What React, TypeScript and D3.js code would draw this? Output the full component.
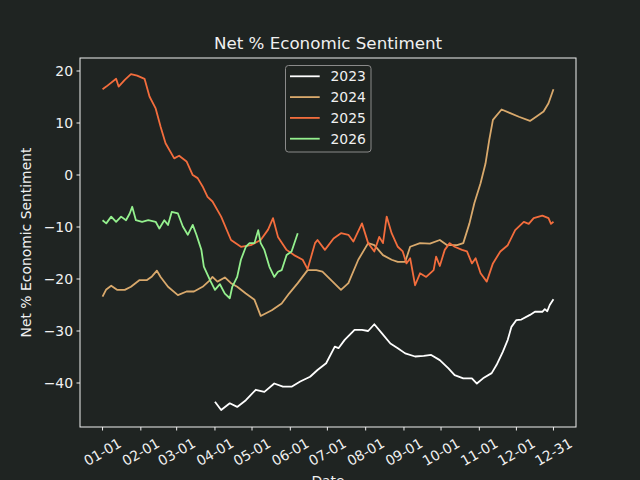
import * as d3 from 'd3';

// day of year (0 = 01-01, 365 = 12-31 on a leap-year axis) and net % values
const days2023 = [91, 96, 103, 109, 116, 124, 131, 139, 146, 153, 160, 168, 174, 181, 188, 191, 196, 204, 210, 215, 220, 226, 233, 239, 245, 253, 260, 266, 273, 280, 285, 292, 299, 303, 308, 315, 319, 324, 328, 331, 335, 339, 346, 350, 356, 358, 360, 362, 365];
const vals2023 = [-43.6, -45.2, -43.9, -44.6, -43.3, -41.3, -41.7, -40.1, -40.7, -40.7, -39.7, -38.8, -37.5, -36.2, -33.0, -33.3, -31.7, -29.8, -29.8, -30.0, -28.7, -30.4, -32.4, -33.3, -34.3, -34.9, -34.8, -34.6, -35.6, -37.2, -38.5, -39.1, -39.1, -40.1, -39.1, -38.1, -36.5, -34.0, -31.7, -29.2, -27.9, -27.8, -26.9, -26.3, -26.3, -25.8, -26.2, -25.0, -23.9];

const days2024 = [0, 3, 7, 12, 18, 23, 30, 36, 40, 44, 47, 53, 61, 68, 74, 81, 87, 89, 93, 99, 104, 109, 116, 123, 128, 137, 145, 151, 158, 166, 173, 178, 185, 193, 199, 207, 215, 220, 227, 234, 239, 245, 249, 257, 265, 273, 279, 287, 292, 297, 301, 306, 310, 313, 316, 323, 330, 337, 346, 351, 357, 361, 365];
const vals2024 = [-23.4, -22.0, -21.3, -22.1, -22.1, -21.5, -20.2, -20.2, -19.5, -18.4, -19.6, -21.5, -23.1, -22.4, -22.4, -21.5, -20.2, -19.6, -20.5, -19.7, -20.8, -21.5, -22.8, -24.0, -27.1, -26.0, -24.7, -22.8, -20.8, -18.3, -18.3, -18.6, -20.2, -22.1, -20.8, -16.3, -13.1, -13.5, -15.4, -16.3, -16.7, -16.7, -13.8, -13.1, -13.2, -12.5, -13.5, -13.5, -13.1, -9.3, -5.4, -1.6, 2.2, 6.7, 10.6, 12.6, 11.9, 11.2, 10.4, 11.2, 12.2, 13.8, 16.5];

const days2025 = [0, 3, 11, 13, 18, 23, 28, 34, 38, 43, 47, 51, 58, 62, 68, 73, 77, 81, 85, 89, 96, 104, 112, 120, 128, 134, 138, 142, 149, 155, 162, 166, 172, 174, 180, 187, 193, 199, 203, 210, 215, 220, 224, 227, 230, 234, 239, 243, 246, 249, 253, 257, 262, 268, 270, 273, 277, 281, 285, 291, 295, 299, 302, 306, 311, 316, 322, 328, 334, 341, 345, 349, 356, 361, 363, 365];
const vals2025 = [16.5, 17.0, 18.5, 17.0, 18.3, 19.4, 19.1, 18.5, 15.1, 12.8, 9.3, 6.1, 3.2, 3.7, 2.6, 0, -0.6, -2.2, -4.2, -5.1, -8.0, -12.5, -13.8, -13.5, -12.5, -10.5, -8.3, -11.9, -14.4, -15.4, -16.3, -18.1, -13.1, -12.5, -14.4, -12.2, -11.2, -11.5, -12.8, -9.3, -13.1, -14.7, -11.9, -13.1, -8.0, -11.2, -13.8, -14.7, -17.0, -16.0, -21.2, -18.9, -19.6, -18.3, -15.7, -17.5, -14.4, -13.1, -13.8, -14.4, -14.7, -17.0, -16.0, -18.9, -20.5, -17.0, -14.7, -13.5, -10.6, -9.0, -9.4, -8.3, -7.8, -8.3, -9.4, -9.0];

const days2026 = [0, 3, 7, 11, 15, 19, 22, 24, 27, 32, 37, 43, 46, 50, 53, 56, 61, 65, 69, 73, 76, 80, 82, 87, 91, 95, 99, 103, 105, 109, 112, 116, 119, 123, 126, 128, 131, 135, 139, 142, 145, 149, 153, 158];
const vals2026 = [-8.7, -9.3, -8.0, -9.0, -8.0, -8.7, -7.4, -6.1, -8.7, -9.0, -8.7, -9.0, -10.3, -8.7, -9.6, -7.1, -7.4, -9.9, -11.5, -9.6, -11.5, -14.4, -17.6, -20.2, -22.1, -21.0, -22.8, -23.7, -21.5, -19.6, -16.3, -13.8, -13.1, -13.1, -10.6, -13.1, -14.4, -17.6, -19.6, -18.6, -18.3, -15.4, -14.7, -11.2];

const seriesNames = ['2023', '2024', '2025', '2026'];
const seriesColors = ['#ffffff', '#d9a96c', '#f36d3d', '#94f08e'];
const seriesDays = [days2023, days2024, days2025, days2026];
const seriesVals = [vals2023, vals2024, vals2025, vals2026];

const tickMonths = ['01-01', '02-01', '03-01', '04-01', '05-01', '06-01', '07-01', '08-01', '09-01', '10-01', '11-01', '12-01', '12-31'];
const yTicks = [-40, -30, -20, -10, 0, 10, 20];

const BG = '#1f2422';
const FG = '#f0f0f0';
const FONT = 'DejaVu Sans, sans-serif';

const DAY = 86400000;
const start = Date.UTC(2024, 0, 1);
const toDate = (d: number) => new Date(start + d * DAY);

function App() {
  const width = 640;
  const height = 480;
  const left = 80, right = 576, top = 58, bottom = 427;

  const x = d3.scaleUtc()
    .domain([new Date(start - 18.25 * DAY), new Date(start + 383.25 * DAY)])
    .range([left, right]);
  const y = d3.scaleLinear().domain([-48.46, 22.5]).range([bottom, top]);

  const line = d3.line<[number, number]>()
    .x(d => x(toDate(d[0])))
    .y(d => y(d[1]));

  const tickDates = tickMonths.map(s => {
    const [m, dd] = s.split('-').map(Number);
    return new Date(Date.UTC(2024, m - 1, dd));
  });
  const fmt = d3.utcFormat('%m-%d');

  return (
    <svg width={width} height={height} style={{ position: 'absolute', left: 0, top: 0, background: BG }}
      fontFamily={FONT}>
      <rect width={width} height={height} fill={BG} />
      <text x={(left + right) / 2} y={49} textAnchor="middle" fill={FG} fontSize={16.7}>Net % Economic Sentiment</text>

      {seriesNames.map((name, i) => (
        <path key={name} fill="none" stroke={seriesColors[i]} strokeWidth={1.8} strokeLinejoin="round"
          d={line(seriesDays[i].map((d, j) => [d, seriesVals[i][j]] as [number, number])) ?? undefined} />
      ))}

      <rect x={left} y={top} width={right - left} height={bottom - top} fill="none" stroke={FG} strokeWidth={1} />

      {yTicks.map(t => (
        <g key={t}>
          <line x1={left - 3.5} x2={left} y1={y(t)} y2={y(t)} stroke={FG} />
          <text x={left - 7} y={y(t)} dy="0.35em" textAnchor="end" fill={FG} fontSize={13.9}>
            {t < 0 ? '\u2212' + Math.abs(t) : t}
          </text>
        </g>
      ))}

      {tickDates.map(t => (
        <g key={t.getTime()}>
          <line x1={x(t)} x2={x(t)} y1={bottom} y2={bottom + 3.5} stroke={FG} />
          <text transform={`translate(${x(t)},452) rotate(-30)`} dy="0.35em" textAnchor="middle" fill={FG} fontSize={13.9}>
            {fmt(t)}
          </text>
        </g>
      ))}

      <text x={(left + right) / 2} y={486} textAnchor="middle" fill={FG} fontSize={13.9}>Date</text>
      <text transform={`translate(31,${(top + bottom) / 2}) rotate(-90)`} textAnchor="middle" fill={FG} fontSize={13.9}>
        Net % Economic Sentiment
      </text>

      <g>
        <rect x={285.5} y={65.5} width={85.5} height={86.5} rx={3} fill={BG} fillOpacity={0.8} stroke="#8a8a8a" strokeWidth={1} />
        {seriesNames.map((name, i) => {
          const ly = 76.3 + i * 20.8;
          return (
            <g key={name}>
              <line x1={290} x2={319.7} y1={ly} y2={ly} stroke={seriesColors[i]} strokeWidth={1.8} />
              <text x={330.5} y={ly} dy="0.35em" fill={FG} fontSize={13.9}>{name}</text>
            </g>
          );
        })}
      </g>
    </svg>
  );
}

export default App;
